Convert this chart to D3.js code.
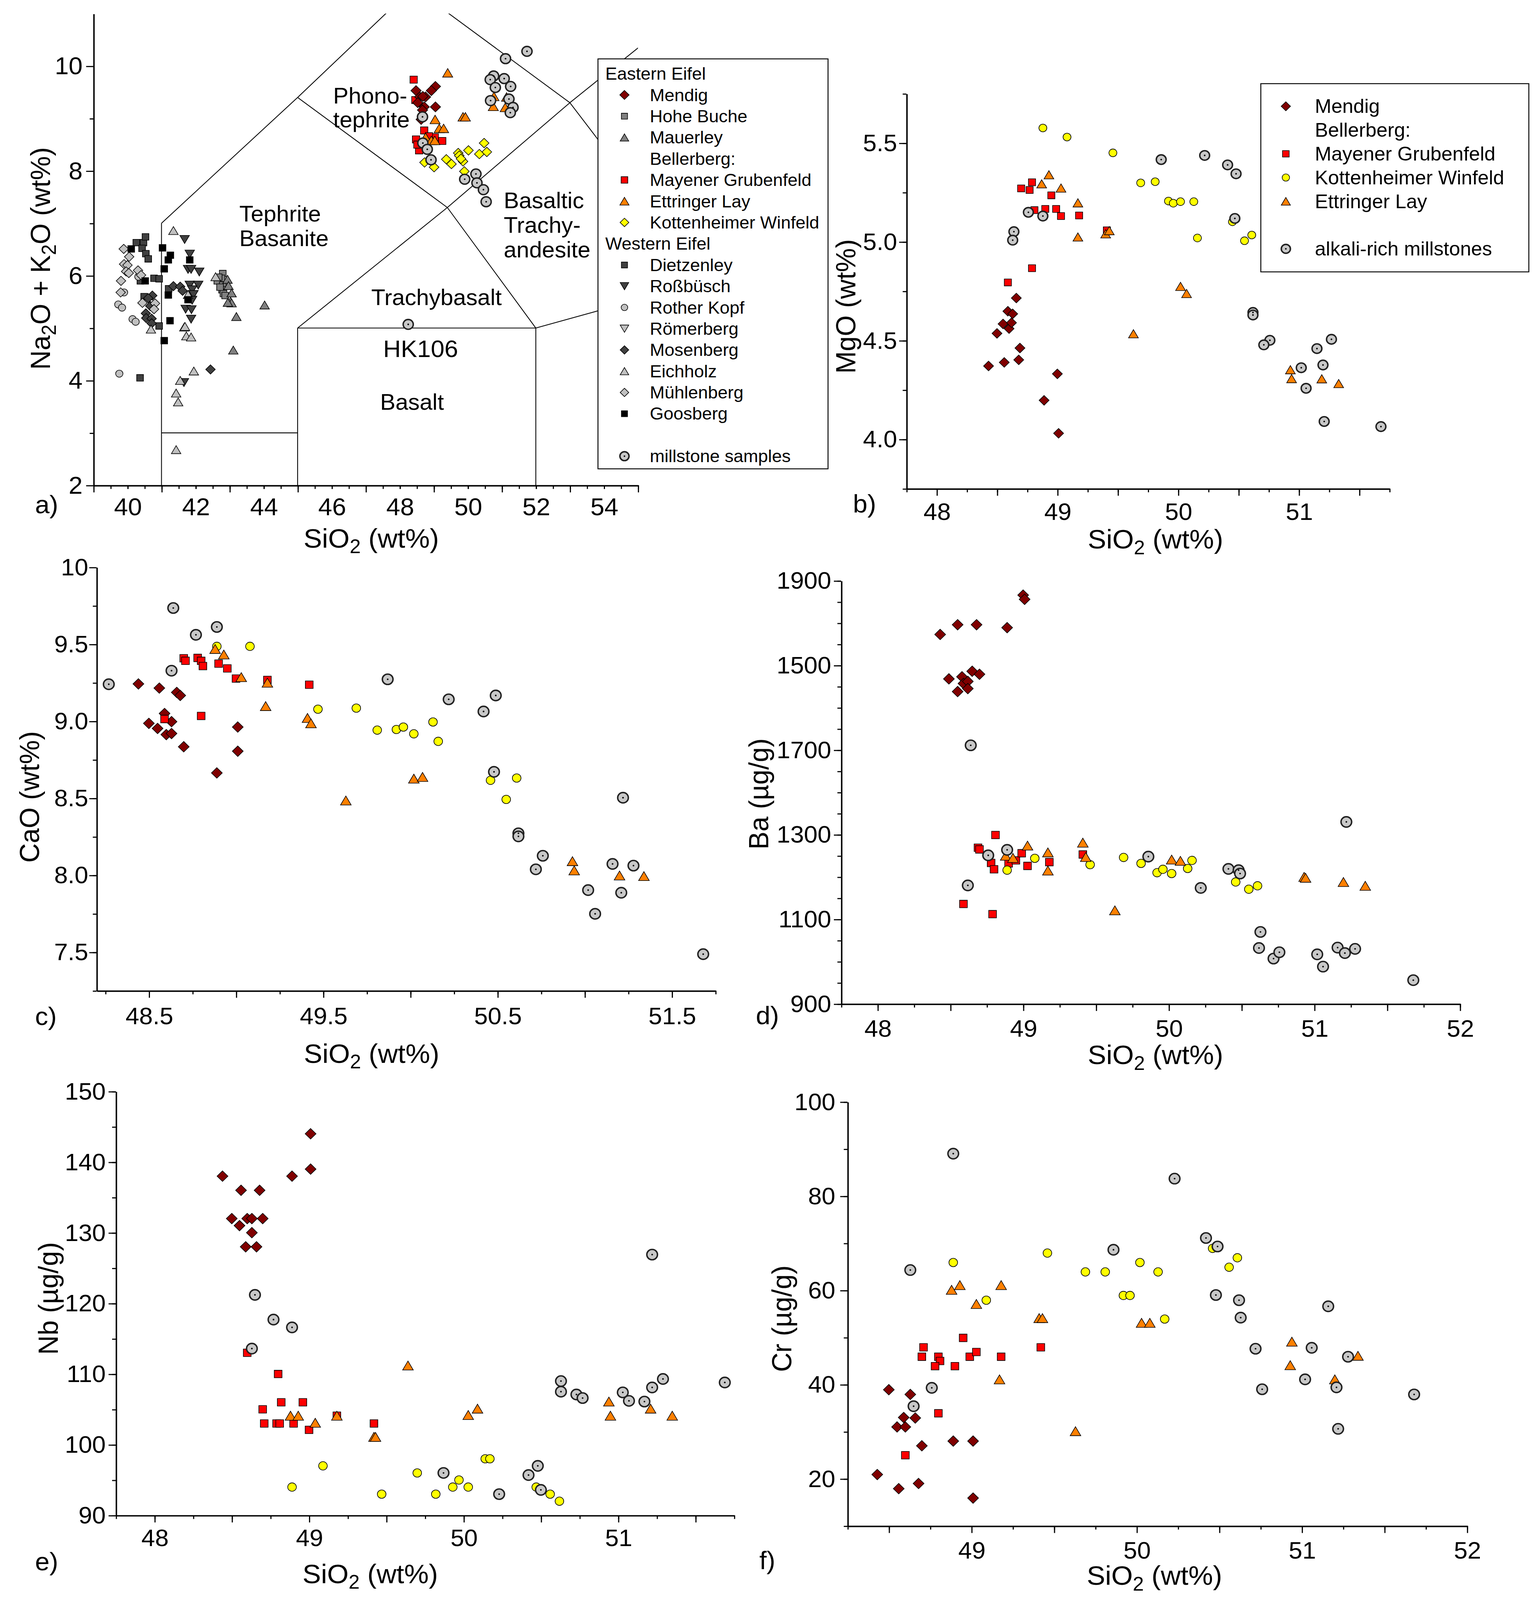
<!DOCTYPE html>
<html>
<head>
<meta charset="utf-8">
<script src="https://cdn.jsdelivr.net/npm/d3@7"></script>
<style>
  html, body { margin: 0; padding: 0; background: #fff; overflow: hidden; }
  svg { display: block; width: 100vw; height: 100vh; }
</style>
</head>
<body>
<div id="chart"></div>
<script>
// ---------------- data: a) TAS, SiO2 vs Na2O+K2O ----------------
const tasHoheBuche = [[42.80,6.04],[42.76,5.95],[42.64,5.90],[42.80,5.82],[42.78,5.73],[42.82,5.66],[42.87,5.62],[42.68,5.97],[42.72,5.78]];
const tasMauerley = [[42.94,5.93],[42.97,5.81],[43.06,5.67],[43.03,5.51],[43.06,5.48],[42.95,5.49],[43.20,5.22],[44.03,5.44],[43.11,4.58]];
const tasMayener = [[48.41,9.74],[48.46,9.35],[48.72,8.77],[49.03,8.64],[49.25,8.57],[48.48,8.60],[48.57,8.39],[48.86,8.66],[48.52,8.50]];
const tasMendig = [[48.48,9.53],[49.05,9.61],[48.93,9.53],[48.59,9.41],[48.76,9.41],[48.68,9.42],[48.53,9.30],[48.72,9.22],[48.67,9.16],[49.05,9.22],[48.63,8.98]];
const tasEttringer = [[49.41,9.87],[49.86,9.03],[49.93,9.03],[49.04,8.98],[49.16,8.81],[49.29,8.81],[48.76,8.64],[48.93,8.58],[49.03,8.58],[50.77,9.42],[50.75,9.23],[51.14,9.41],[51.10,9.21]];
const tasKottenheimer = [[50.48,8.53],[50.02,8.39],[50.34,8.32],[50.56,8.36],[49.72,8.34],[49.75,8.29],[49.86,8.18],[49.80,8.23],[49.37,8.22],[49.52,8.13],[48.73,8.16],[49.01,8.07],[49.90,7.99]];
const tasDietzenley = [[40.26,6.63],[40.47,6.63],[40.53,6.74],[40.43,6.52],[40.54,6.42],[40.61,6.32],[40.78,5.95],[40.93,5.94],[40.38,5.90],[41.21,5.75],[40.49,5.60],[40.93,5.04],[40.37,4.05]];
const tasRossbusch = [[41.68,6.69],[41.83,6.41],[41.78,6.12],[41.87,6.12],[42.11,6.07],[41.83,5.82],[42.08,5.82],[41.90,5.73],[41.94,5.64],[41.90,5.53],[41.71,5.36],[41.88,5.35],[41.87,5.17],[41.66,3.96]];
const tasRotherKopf = [[40.32,5.98],[39.90,5.68],[39.73,5.45],[39.84,5.39],[40.15,5.17],[40.24,5.12],[39.76,4.13]];
const tasMosenberg = [[41.35,5.80],[41.55,5.79],[41.62,5.71],[40.73,5.62],[40.61,5.57],[40.67,5.42],[40.54,5.28],[40.55,5.19],[40.71,5.18],[40.71,5.09],[42.44,4.21]];
const tasEichholz = [[41.35,6.86],[42.59,5.98],[41.78,5.64],[41.67,5.02],[41.69,5.03],[40.69,4.98],[41.73,4.85],[41.87,4.83],[41.95,4.18],[41.55,4.00],[41.43,3.76],[41.49,3.59],[41.43,2.68]];
const tasMuhlenberg = [[39.89,6.51],[40.05,6.36],[39.90,6.22],[40.00,6.20],[39.96,6.08],[40.04,6.05],[40.31,6.10],[40.40,6.01],[39.81,5.90],[39.80,5.68],[40.44,5.48],[40.81,5.47],[40.78,5.36]];
const tasGoosberg = [[40.11,6.51],[41.03,6.53],[41.26,6.39],[41.20,6.30],[41.08,6.13],[41.83,6.30],[40.52,5.90],[41.20,5.63],[41.78,5.54],[41.25,5.14],[41.08,4.76]];
const tasMillstone = [[51.11,10.14],[51.74,10.28],[50.76,9.81],[50.66,9.74],[51.07,9.76],[50.81,9.59],[51.26,9.61],[50.67,9.34],[51.21,9.37],[51.33,9.21],[51.25,9.11],[48.67,9.03],[48.68,8.53],[48.81,8.41],[48.92,8.21],[50.24,7.94],[49.91,7.84],[50.27,7.77],[50.46,7.64],[50.54,7.41],[48.25,5.07]];

// TAS field boundaries (Le Bas et al.) and field names
const tasFieldLines = [
  [[41,2],[41,7]], [[41,7],[45,9.4]], [[45,9.4],[48.4,11.5]], [[41,3],[45,3]],
  [[45,2],[45,5]], [[45,5],[52,5]], [[52,2],[52,5]], [[45,5],[49.4,7.3]],
  [[49.4,7.3],[52,5]], [[45,9.4],[49.4,7.3]], [[49.4,7.3],[53,9.3]],
  [[48.4,11.5],[53,9.3]], [[53,9.3],[57.6,11.7]], [[53,9.3],[57,5.9]], [[52,5],[57,5.9]]
];
const tasFieldNames = [
  ["Phono-", 319.5, 102], ["tephrite", 319.5, 125.5],
  ["Tephrite", 229.5, 218], ["Basanite", 229.5, 242.5],
  ["Basaltic", 483, 205], ["Trachy-", 483, 229.5], ["andesite", 483, 253.5],
  ["Trachybasalt", 356, 300.5], ["Basalt", 364.5, 403.5]
];

// ---------------- data: b) SiO2 vs MgO ----------------
const mgoMendig = [[48.43,4.371],[48.50,4.536],[48.55,4.584],[48.56,4.389],[48.59,4.648],[48.60,4.560],[48.63,4.635],[48.62,4.590],[48.66,4.715],[48.68,4.402],[48.69,4.462],[48.89,4.197],[49.00,4.331],[49.01,4.030]];
const mgoMayener = [[48.70,5.270],[48.77,5.262],[48.79,5.301],[48.95,5.235],[48.81,5.160],[48.90,5.166],[48.99,5.166],[49.03,5.130],[49.18,5.133],[49.41,5.058],[48.79,4.866],[48.59,4.794]];
const mgoKott = [[48.88,5.576],[49.08,5.530],[49.46,5.450],[49.69,5.298],[49.81,5.304],[49.92,5.206],[49.96,5.195],[50.02,5.203],[50.13,5.203],[50.16,5.019],[50.45,5.101],[50.55,5.005],[50.61,5.034]];
const mgoEtt = [[48.93,5.339],[48.87,5.293],[49.03,5.272],[49.17,5.197],[49.17,5.024],[49.40,5.040],[49.43,5.056],[50.02,4.774],[50.07,4.738],[49.63,4.534],[50.93,4.352],[50.94,4.307],[51.19,4.306],[51.33,4.282]];
const mgoMill = [[48.76,5.149],[48.88,5.130],[48.64,5.051],[48.63,5.008],[49.86,5.416],[50.22,5.437],[50.41,5.389],[50.48,5.344],[50.47,5.118],[50.62,4.642],[50.62,4.629],[50.76,4.501],[50.71,4.478],[51.27,4.506],[51.15,4.459],[51.20,4.376],[51.02,4.362],[51.06,4.258],[51.21,4.090],[51.68,4.064]];

// ---------------- data: c) SiO2 vs CaO ----------------
const caoMendig = [[48.44,9.242],[48.56,9.215],[48.66,9.187],[48.68,9.167],[48.59,9.050],[48.63,8.997],[48.50,8.986],[48.55,8.953],[48.60,8.913],[48.63,8.920],[48.70,8.834],[49.01,8.962],[49.01,8.805],[48.89,8.664]];
const caoMayener = [[48.70,9.409],[48.71,9.392],[48.78,9.411],[48.80,9.392],[48.81,9.358],[48.90,9.374],[48.95,9.343],[49.00,9.277],[49.18,9.268],[49.42,9.237],[48.80,9.034],[48.59,9.014]];
const caoKott = [[48.89,9.486],[49.08,9.486],[49.47,9.078],[49.69,9.085],[49.81,8.942],[49.92,8.946],[49.96,8.962],[50.02,8.918],[50.13,8.995],[50.16,8.869],[50.46,8.616],[50.61,8.631],[50.55,8.492]];
const caoEtt = [[48.88,9.469],[48.93,9.433],[49.03,9.286],[49.18,9.250],[49.17,9.098],[49.41,9.021],[49.43,8.986],[50.02,8.627],[50.07,8.638],[49.63,8.485],[50.93,8.091],[50.94,8.031],[51.20,7.998],[51.34,7.994]];
const caoMill = [[48.27,9.240],[48.64,9.735],[48.77,9.561],[48.89,9.612],[48.63,9.328],[49.87,9.272],[50.22,9.142],[50.49,9.167],[50.42,9.063],[50.48,8.671],[50.62,8.272],[50.62,8.252],[50.76,8.126],[50.72,8.038],[51.22,8.503],[51.16,8.073],[51.28,8.062],[51.02,7.903],[51.21,7.886],[51.06,7.749],[51.68,7.487]];

// ---------------- data: d) SiO2 vs Ba ----------------
const baMendig = [[48.43,1773],[48.55,1796],[48.68,1796],[48.89,1789],[49.00,1866],[49.01,1856],[48.49,1668],[48.55,1638],[48.58,1673],[48.59,1657],[48.62,1662],[48.62,1645],[48.65,1686],[48.70,1679]];
const baMayener = [[48.81,1299],[48.69,1269],[48.70,1265],[48.78,1233],[48.80,1218],[48.90,1232],[48.95,1239],[48.99,1256],[49.03,1226],[49.18,1235],[49.41,1253],[48.59,1136],[48.79,1112]];
const baKott = [[48.89,1216],[49.08,1244],[49.46,1229],[49.69,1246],[49.81,1232],[49.92,1210],[49.96,1218],[50.02,1208],[50.13,1220],[50.16,1239],[50.46,1188],[50.55,1171],[50.61,1179]];
const baEtt = [[48.88,1250],[48.93,1245],[49.03,1274],[49.17,1258],[49.17,1215],[49.41,1281],[49.43,1247],[50.02,1241],[50.08,1238],[49.63,1121],[50.93,1200],[50.94,1198],[51.20,1188],[51.35,1179]];
const baMill = [[48.64,1511],[48.62,1180],[48.76,1251],[48.89,1264],[49.86,1248],[50.22,1174],[50.41,1219],[50.48,1216],[50.49,1208],[51.22,1330],[50.63,1070],[50.62,1032],[50.72,1007],[50.76,1022],[51.02,1017],[51.06,988],[51.16,1033],[51.21,1020],[51.28,1030],[51.68,956]];
const baTickValues = [900, 1100, 1300, 1500, 1700, 1900];
const baTickLabels = ["900", "1100", "1300", "1700", "1500", "1900"]; // as printed in the figure

// ---------------- data: e) SiO2 vs Nb ----------------
const nbMendig = [[48.44,138],[48.56,136],[48.68,136],[48.89,138],[49.01,144],[49.01,139],[48.50,132],[48.55,131],[48.60,132],[48.63,132],[48.70,132],[48.63,130],[48.59,128],[48.66,128]];
const nbMayener = [[48.60,113],[48.80,110],[48.82,106],[48.96,106],[48.70,105],[48.71,103],[48.79,103],[48.81,103],[48.90,103],[49.00,102.1],[49.18,104.1],[49.42,103]];
const nbKott = [[48.89,94],[49.09,97],[49.47,93],[49.70,96],[49.82,93],[49.93,94],[49.97,95],[50.03,94],[50.14,98],[50.17,98],[50.47,94],[50.56,93],[50.62,92]];
const nbEtt = [[48.88,104.1],[48.93,104.1],[49.04,103.1],[49.18,104.1],[49.42,101.1],[49.43,101.1],[49.64,111.2],[50.03,104.2],[50.09,105.1],[50.94,106.1],[50.95,104.1],[51.21,105.1],[51.35,104.1]];
const nbMill = [[48.65,121.2],[48.77,117.7],[48.89,116.6],[48.63,113.6],[51.22,126.9],[50.63,109.0],[50.63,107.5],[50.73,107.1],[50.77,106.6],[51.03,107.4],[51.07,106.2],[51.17,106.1],[51.22,108.1],[51.29,109.3],[51.69,108.8],[49.87,96.0],[50.23,93.0],[50.42,95.7],[50.48,97.0],[50.50,93.6]];

// ---------------- data: f) SiO2 vs Cr ----------------
const crMendig = [[48.43,20.9],[48.50,38.9],[48.56,17.9],[48.55,31.0],[48.59,33.0],[48.60,31.0],[48.63,37.9],[48.66,32.9],[48.68,19.0],[48.70,27.0],[48.89,28.0],[49.01,28.0],[49.01,15.9]];
const crMayener = [[48.60,25.0],[48.71,47.9],[48.70,45.9],[48.80,45.9],[48.81,45.0],[48.78,43.9],[48.90,43.9],[48.95,49.9],[48.99,45.9],[49.03,46.9],[49.18,45.9],[49.42,47.9],[48.80,33.9]];
const crKott = [[48.89,65.9],[49.09,57.9],[49.46,67.9],[49.69,63.9],[49.81,63.9],[49.92,58.9],[49.96,58.9],[50.02,65.9],[50.13,63.9],[50.17,53.9],[50.46,68.9],[50.56,64.9],[50.61,66.9]];
const crEtt = [[48.88,60.1],[48.93,61.1],[49.03,57.1],[49.18,61.1],[49.17,41.1],[49.41,54.1],[49.43,54.1],[50.03,53.1],[50.08,53.1],[49.63,30.1],[50.94,49.1],[50.93,44.1],[51.20,41.1],[51.34,46.1]];
const crMill = [[48.89,89.0],[48.63,64.3],[48.76,39.3],[48.65,35.4],[49.86,68.6],[50.23,83.7],[50.42,71.1],[50.49,69.3],[50.48,59.0],[50.62,57.9],[50.63,54.2],[50.72,47.6],[50.76,39.0],[51.02,41.1],[51.06,47.8],[51.16,56.6],[51.21,39.4],[51.28,45.9],[51.22,30.6],[51.68,37.9]];

// legend entries
const legendA = [
  ["Eastern Eifel", null, true], ["Mendig", "mendig"], ["Hohe Buche", "hohe"], ["Mauerley", "mauer"],
  ["Bellerberg:", null], ["Mayener Grubenfeld", "mayener"], ["Ettringer Lay", "ett"],
  ["Kottenheimer Winfeld", "kottD"], ["Western Eifel", null, true], ["Dietzenley", "dietz"],
  ["Roßbüsch", "ross"], ["Rother Kopf", "rother"], ["Römerberg", "romer"], ["Mosenberg", "mosen"],
  ["Eichholz", "eich"], ["Mühlenberg", "muhl"], ["Goosberg", "goos"], ["", null], ["millstone samples", "mill"]
];
const legendB = [
  ["Mendig", "mendig"], ["Bellerberg:", null], ["Mayener Grubenfeld", "mayener"],
  ["Kottenheimer Winfeld", "kottC"], ["Ettringer Lay", "ett"], ["", null], ["alkali-rich millstones", "mill"]
];

// ---------------- drawing ----------------
const FONT = '"Liberation Sans", Arial, Helvetica, sans-serif';
const W = 1470, H = 1576;

const svg = d3.select("#chart").append("svg")
  .attr("viewBox", `0 0 ${W} ${H}`)
  .attr("preserveAspectRatio", "none")
  .attr("font-family", FONT);
svg.append("rect").attr("width", W).attr("height", H).attr("fill", "#fff");

// marker shapes (size = width^2)
const SHAPES = {
  square: { draw(c, s) { const h = Math.sqrt(s) / 2; c.rect(-h, -h, 2 * h, 2 * h); } },
  diamond: { draw(c, s) { const h = Math.sqrt(s) / 2; c.moveTo(0, -h); c.lineTo(h, 0); c.lineTo(0, h); c.lineTo(-h, 0); c.closePath(); } },
  triUp: { draw(c, s) { const h = Math.sqrt(s) / 2, v = h * 0.87; c.moveTo(0, -v); c.lineTo(h, v); c.lineTo(-h, v); c.closePath(); } },
  triDown: { draw(c, s) { const h = Math.sqrt(s) / 2, v = h * 0.87; c.moveTo(0, v); c.lineTo(h, -v); c.lineTo(-h, -v); c.closePath(); } },
  circle: { draw(c, s) { const h = Math.sqrt(s) / 2; c.moveTo(h, 0); c.arc(0, 0, h, 0, 2 * Math.PI); } }
};

const STYLE = {
  mendig:  { shape: "diamond", fill: "#800000", w: 10.4 },
  mayener: { shape: "square",  fill: "#ff0000", w: 7.4 },
  ett:     { shape: "triUp",   fill: "#ff8000", w: 10.2 },
  kottD:   { shape: "diamond", fill: "#ffff00", w: 9.8 },
  kottC:   { shape: "circle",  fill: "#ffff00", w: 8.3 },
  hohe:    { shape: "square",  fill: "#808080", w: 6.8 },
  mauer:   { shape: "triUp",   fill: "#808080", w: 9.6 },
  dietz:   { shape: "square",  fill: "#404040", w: 6.8 },
  ross:    { shape: "triDown", fill: "#404040", w: 9.6 },
  rother:  { shape: "circle",  fill: "#c0c0c0", w: 7.4 },
  romer:   { shape: "triDown", fill: "#c0c0c0", w: 9.6 },
  mosen:   { shape: "diamond", fill: "#404040", w: 9.6 },
  eich:    { shape: "triUp",   fill: "#c0c0c0", w: 9.6 },
  muhl:    { shape: "diamond", fill: "#c0c0c0", w: 9.6 },
  goos:    { shape: "square",  fill: "#000000", w: 6.8 },
  mill:    { shape: "circle",  fill: "#c8c8c8", w: 10.2, stroke: "#202020", sw: 1.4, dot: true }
};

function drawMarks(g, pts, st, k) {
  const grp = g.append("g");
  const sym = d3.symbol().type(SHAPES[st.shape]).size(Math.pow(st.w * k, 2));
  grp.selectAll("path").data(pts).join("path")
    .attr("transform", d => `translate(${d[0]},${d[1]})`)
    .attr("d", sym)
    .attr("fill", st.fill)
    .attr("stroke", st.stroke || "#000")
    .attr("stroke-width", st.sw || 0.6);
  if (st.dot) {
    grp.selectAll("circle").data(pts).join("circle")
      .attr("cx", d => d[0]).attr("cy", d => d[1]).attr("r", 0.8).attr("fill", "#000");
  }
}

function richText(t, parts) {
  let shifted = false;
  parts.forEach(p => {
    const ts = t.append("tspan").text(p[0]);
    if (p[1]) { ts.attr("dy", "0.3em").attr("font-size", "0.72em"); shifted = true; }
    else if (shifted) { ts.attr("dy", "-0.216em"); shifted = false; }
  });
}

const SIO2 = [["SiO"], ["2", 1], [" (wt%)"]];
const LONG = 7, SHORT = 3.6;

function tickLayer(g, axis, pos, vals, size) {
  if (!vals || !vals.length) return;
  g.append("g").attr("transform", pos)
    .call(axis.tickValues(vals).tickSize(size).tickSizeOuter(0).tickFormat(""))
    .call(s => s.select(".domain").remove());
}

function drawPanel(p) {
  const x = d3.scaleLinear().domain(p.xDomain).range([p.left, p.right]);
  const y = d3.scaleLinear().domain(p.yDomain).range([p.bottom, p.top]);
  const g = svg.append("g");
  const bx = `translate(0,${p.bottom})`, ly = `translate(${p.left},0)`;

  if (p.under) p.under(g, x, y);

  // unlabelled short and long ticks
  tickLayer(g, d3.axisBottom(x), bx, p.xMinor, SHORT);
  tickLayer(g, d3.axisBottom(x), bx, p.xLong, LONG);
  tickLayer(g, d3.axisLeft(y), ly, p.yMinor, SHORT);
  tickLayer(g, d3.axisLeft(y), ly, p.yLong, LONG);

  // labelled ticks
  const xTick = p.xLabTick || LONG;
  const xa = g.append("g").attr("transform", bx)
    .call(d3.axisBottom(x).tickValues(p.xMajor).tickSize(xTick).tickSizeOuter(0)
      .tickPadding(p.xOff - xTick - 8.5).tickFormat(p.xFormat));
  const ya = g.append("g").attr("transform", ly)
    .call(d3.axisLeft(y).tickValues(p.yMajor).tickSize(LONG).tickSizeOuter(0)
      .tickPadding(p.yPad).tickFormat(p.yFormat));
  [xa, ya].forEach(a => a.attr("font-family", FONT).attr("font-size", p.tickFont || 23.5));
  g.selectAll(".domain").attr("stroke-width", 1.4);
  g.selectAll(".tick line").attr("stroke-width", 1.1);

  p.groups.forEach(([data, key]) =>
    drawMarks(g, data.map(d => [x(d[0]), y(d[1])]), STYLE[key], p.k || 1));

  // axis titles and panel letter
  const xt = g.append("text").attr("x", p.xTitle[0]).attr("y", p.xTitle[1])
    .attr("dy", "0.35em").attr("text-anchor", "middle").attr("font-size", 26.5);
  richText(xt, SIO2);
  const yt = g.append("text").attr("transform", "rotate(-90)")
    .attr("x", -p.yTitle[1]).attr("y", p.yTitle[0])
    .attr("dy", "0.35em").attr("text-anchor", "middle").attr("font-size", 26.5);
  richText(yt, p.yTitle[2]);
  g.append("text").attr("x", p.letter[0]).attr("y", p.letter[1]).attr("dy", "0.35em")
    .attr("text-anchor", "middle").attr("font-size", 25).text(p.letter[2]);

  if (p.over) p.over(g, x, y);
  return { x, y };
}

const fmt1 = d => d.toFixed(1);
const fmt0 = d => String(d);
const rng = (a, b, s) => d3.range(a, b + s / 2, s);

// ---- a) TAS ----
drawPanel({
  xDomain: [39, 55], yDomain: [2, 11],
  left: 89.6, right: 611.7, top: 13.4, bottom: 478,
  xMajor: rng(40, 54, 2), xLabTick: SHORT, xLong: rng(39, 55, 2), xMinor: rng(39, 55, 0.5),
  yMajor: rng(2, 10, 2), yMinor: [3, 5, 7, 9],
  xFormat: fmt0, yFormat: fmt0, xOff: 21, yPad: 3.4, tickFont: 24,
  xTitle: [356, 530], yTitle: [38.6, 254.6, [["Na"], ["2", 1], ["O + K"], ["2", 1], ["O (wt%)"]]],
  letter: [44.7, 497, "a)"],
  k: 0.95,
  under(g, x, y) {
    g.append("clipPath").attr("id", "tasclip").append("rect")
      .attr("x", x(39)).attr("y", y(11)).attr("width", x(55) - x(39)).attr("height", y(2) - y(11));
    g.append("g").attr("clip-path", "url(#tasclip)")
      .selectAll("line").data(tasFieldLines).join("line")
      .attr("x1", d => x(d[0][0])).attr("y1", d => y(d[0][1]))
      .attr("x2", d => x(d[1][0])).attr("y2", d => y(d[1][1]))
      .attr("stroke", "#000").attr("stroke-width", 0.8);
    g.append("g").selectAll("text").data(tasFieldNames).join("text")
      .attr("x", d => d[1]).attr("y", d => d[2]).attr("font-size", 22).text(d => d[0]);
    g.append("text").attr("x", 367.4).attr("y", 351.5).attr("font-size", 23.5).text("HK106");
  },
  groups: [
    [tasHoheBuche, "hohe"], [tasMauerley, "mauer"], [tasMayener, "mayener"], [tasMendig, "mendig"],
    [tasEttringer, "ett"], [tasKottenheimer, "kottD"], [tasDietzenley, "dietz"], [tasRossbusch, "ross"],
    [tasRotherKopf, "rother"], [tasMosenberg, "mosen"], [tasEichholz, "eich"], [tasMuhlenberg, "muhl"],
    [tasGoosberg, "goos"], [tasMillstone, "mill"]
  ],
  over(g) {
    const lg = g.append("g");
    lg.append("rect").attr("x", 573.4).attr("y", 58).attr("width", 794 - 573.4).attr("height", 461.8 - 58)
      .attr("fill", "#fff").attr("stroke", "#000").attr("stroke-width", 0.9);
    legendA.forEach((e, i) => {
      const cy = 72.6 + i * 20.93;
      lg.append("text").attr("x", e[2] ? 580.4 : 623.1).attr("y", cy).attr("dy", "0.35em")
        .attr("font-size", 17).text(e[0]);
      if (e[1]) drawMarks(lg, [[598.8, cy]], STYLE[e[1]], 0.86);
    });
  }
});

// ---- b) MgO ----
drawPanel({
  xDomain: [47.75, 51.75], yDomain: [3.75, 5.75],
  left: 869.2, right: 1332.3, top: 92.2, bottom: 481.3,
  xMajor: rng(48, 51, 1), xLong: rng(48.5, 51.5, 1), xMinor: rng(47.75, 51.75, 0.25),
  yMajor: rng(4, 5.5, 0.5), yMinor: rng(3.75, 5.75, 0.25),
  xFormat: fmt0, yFormat: fmt1, xOff: 22.6, yPad: 2,
  xTitle: [1108, 531], yTitle: [811, 301.8, [["MgO (wt%)"]]],
  letter: [829, 496, "b)"],
  k: 0.92,
  groups: [[mgoMendig, "mendig"], [mgoMayener, "mayener"], [mgoKott, "kottC"], [mgoEtt, "ett"], [mgoMill, "mill"]],
  over(g) {
    const lg = g.append("g");
    lg.append("rect").attr("x", 1209).attr("y", 82.4).attr("width", 1466 - 1209).attr("height", 267.8 - 82.4)
      .attr("fill", "#fff").attr("stroke", "#000").attr("stroke-width", 0.9);
    legendB.forEach((e, i) => {
      const cy = 104.7 + i * 23.4;
      lg.append("text").attr("x", 1260.8).attr("y", cy).attr("dy", "0.35em")
        .attr("font-size", 19).text(e[0]);
      if (e[1]) drawMarks(lg, [[1233, cy]], STYLE[e[1]], 0.86);
    });
  }
});

// ---- c) CaO ----
drawPanel({
  xDomain: [48.2, 51.75], yDomain: [7.25, 10],
  left: 92.6, right: 686, top: 558.7, bottom: 975.8,
  xMajor: rng(48.5, 51.5, 1), xLong: rng(49, 51, 1), xMinor: rng(48.25, 51.75, 0.25),
  yMajor: rng(7.5, 10, 0.5), yMinor: rng(7.25, 9.75, 0.25),
  xFormat: fmt1, yFormat: d => d === 10 ? "10" : d.toFixed(1), xOff: 25, yPad: 1,
  xTitle: [356.3, 1037.5], yTitle: [28.2, 785, [["CaO (wt%)"]]],
  letter: [44, 1000.8, "c)"],
  groups: [[caoMendig, "mendig"], [caoMayener, "mayener"], [caoKott, "kottC"], [caoEtt, "ett"], [caoMill, "mill"]]
});

// ---- d) Ba ----
drawPanel({
  xDomain: [47.75, 52], yDomain: [900, 1900],
  left: 806.6, right: 1399.9, top: 572, bottom: 988.8,
  xMajor: rng(48, 52, 1), xLong: rng(48.5, 51.5, 1), xMinor: rng(47.75, 52, 0.25),
  yMajor: baTickValues, yMinor: rng(900, 1900, 50),
  xFormat: fmt0, yFormat: (d, i) => baTickLabels[i], xOff: 24, yPad: 2.6,
  xTitle: [1108, 1038.8], yTitle: [727.6, 782, [["Ba (µg/g)"]]],
  letter: [735.9, 1000, "d)"],
  groups: [[baMendig, "mendig"], [baMayener, "mayener"], [baKott, "kottC"], [baEtt, "ett"], [baMill, "mill"]]
});

// ---- e) Nb ----
drawPanel({
  xDomain: [47.75, 51.75], yDomain: [90, 150],
  left: 111.1, right: 703.9, top: 1075, bottom: 1492.6,
  xMajor: rng(48, 51, 1), xLong: rng(48.5, 51.5, 1), xMinor: rng(47.75, 51.75, 0.25),
  yMajor: rng(90, 150, 10), yMinor: rng(90, 150, 5),
  xFormat: fmt0, yFormat: fmt0, xOff: 22, yPad: 2.7,
  xTitle: [355, 1550], yTitle: [46.2, 1279, [["Nb (µg/g)"]]],
  letter: [44.7, 1538, "e)"],
  groups: [[nbMendig, "mendig"], [nbMayener, "mayener"], [nbKott, "kottC"], [nbEtt, "ett"], [nbMill, "mill"]]
});

// ---- f) Cr ----
drawPanel({
  xDomain: [48.25, 52], yDomain: [10, 100],
  left: 812.7, right: 1406.7, top: 1085.3, bottom: 1503,
  xMajor: rng(49, 52, 1), xLong: rng(48.5, 51.5, 1), xMinor: rng(48.25, 52, 0.25),
  yMajor: rng(20, 100, 20), yMinor: rng(10, 100, 10),
  xFormat: fmt0, yFormat: fmt0, xOff: 24, yPad: 4.7,
  xTitle: [1107, 1551.8], yTitle: [749.4, 1298.9, [["Cr (µg/g)"]]],
  letter: [735.8, 1537, "f)"],
  groups: [[crMendig, "mendig"], [crMayener, "mayener"], [crKott, "kottC"], [crEtt, "ett"], [crMill, "mill"]]
});
</script>
</body>
</html>
